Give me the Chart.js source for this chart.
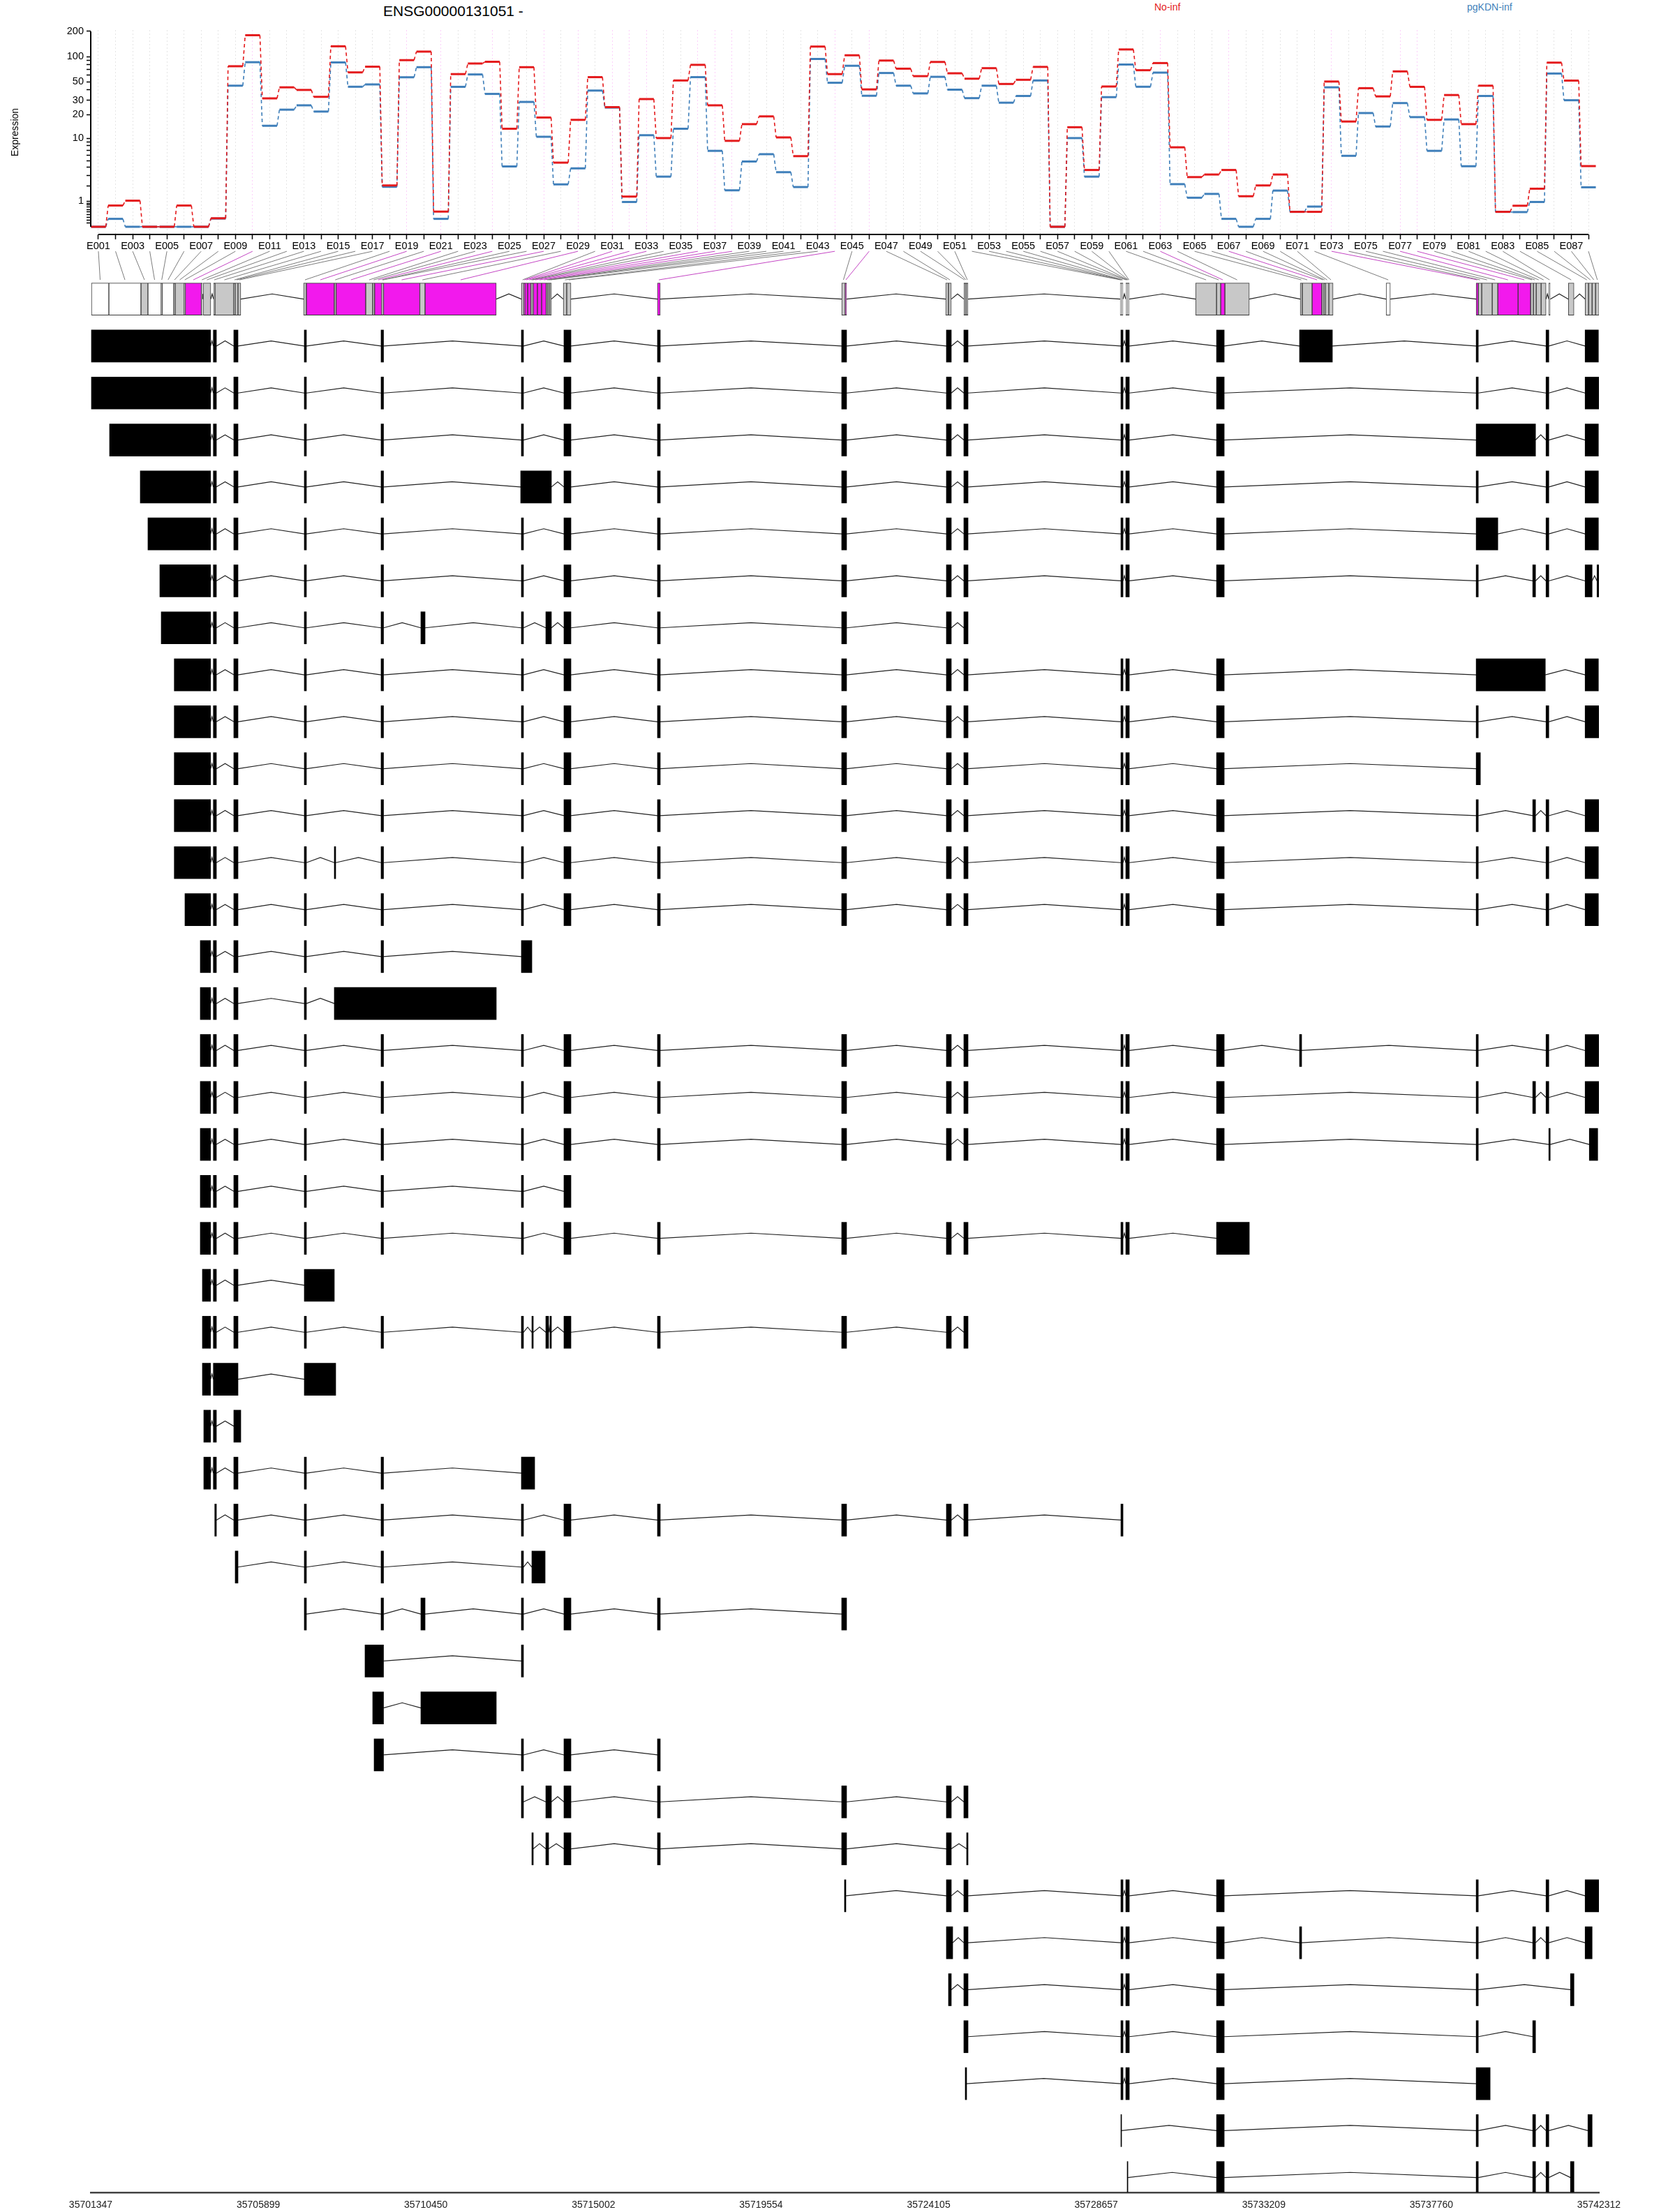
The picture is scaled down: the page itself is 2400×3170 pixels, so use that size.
<!DOCTYPE html>
<html>
<head>
<meta charset="utf-8">
<script src="https://cdn.jsdelivr.net/npm/chart.js@4.4.1/dist/chart.umd.min.js"></script>
<style>
  body { margin: 0; background: #fff; width: 2400px; height: 3170px; position: relative; overflow: hidden;
         font-family: "Liberation Sans", Arial, sans-serif; }
  canvas { position: absolute; left: 0; top: 0; }
  .lbl { position: absolute; white-space: nowrap; line-height: 20px; }
</style>
</head>
<body>
<div class="lbl" style="left:549px;top:4px;font-size:21px;line-height:24px">ENSG00000131051 -</div>
<div class="lbl" style="left:1654px;top:0px;font-size:14px;color:#E41A1C">No-inf</div>
<div class="lbl" style="left:2102px;top:0px;font-size:14px;color:#3F7FBA">pgKDN-inf</div>
<canvas id="expr" width="2400" height="380" style="width:2400px;height:380px"></canvas>
<canvas id="model" width="2400" height="3170" style="width:2400px;height:3170px"></canvas>
<script>
// exon bins E001..E088
const exonIds = Array.from({ length: 88 }, (_, i) => 'E' + String(i + 1).padStart(3, '0'));

// expression per bin
const noInf = [0, 0.78, 1.03, 0, 0, 0.78, 0, 0.26, 77, 180,
  31.6, 43, 40, 33, 133, 65, 76, 2.07, 91, 115,
  0.51, 62, 83, 87, 13.3, 75, 18.4, 4.7, 17.2, 57,
  24.7, 1.27, 31, 10.1, 52, 80, 26, 9.3, 15.2, 19,
  10.3, 5.8, 132, 62, 104, 40.6, 90, 72, 58.6, 86.6,
  63.4, 54.6, 73, 47.2, 53, 75.6, 0, 13.9, 3.67, 44,
  122, 69, 84, 7.64, 2.85, 3.13, 3.67, 1.29, 2.07, 3.13,
  0.5, 0.5, 50.5, 16.4, 42, 33.4, 66.8, 43.6, 17.2, 34.7,
  15.2, 45, 0.5, 0.77, 1.81, 85, 51.8, 4.19];
const pgKDN = [0, 0.24, 0, 0, 0, 0, 0, 0.25, 45, 86,
  14.5, 23, 26, 21.8, 85.5, 43.7, 46.6, 1.96, 56.8, 75,
  0.24, 43.6, 61.4, 35.8, 4.14, 28.6, 10.5, 2.16, 3.88, 39.3,
  24.4, 0.96, 11, 2.9, 13.3, 57, 6.85, 1.69, 4.88, 6.17,
  3.4, 1.94, 94, 48.8, 78, 34, 63.9, 45, 36.3, 57.5,
  40.3, 31.8, 45, 28, 33.8, 52, 0, 10.1, 2.9, 32.7,
  80.7, 43.7, 64.6, 2.18, 1.2, 1.44, 0.24, 0, 0.24, 1.67,
  0.5, 0.73, 43, 5.86, 20.9, 14.2, 27.7, 18.6, 6.85, 17.4,
  4.17, 33.8, 0.5, 0.49, 0.96, 63, 30, 1.92];

// y axis ticks (log(x+1) scale)
const yTickVals = [0.1, 0.2, 0.3, 0.4, 0.5, 0.6, 0.7, 0.8, 0.9, 1, 2, 3, 4, 5, 6, 7, 8, 9,
  10, 20, 30, 40, 50, 60, 70, 80, 90, 100, 200];
const yTickLabels = ['', '', '', '', '', '', '', '', '', '1', '', '', '', '', '', '', '', '',
  '10', '20', '30', '', '50', '', '', '', '', '100', '200'];

// genomic extent of each bin and its status (W untested, G not significant, M significant)
const binStart = [35701366, 35701840, 35702712, 35702901, 35703262, 35703290, 35703603, 35703641, 35703887, 35703916,
  35704352, 35704399, 35704684, 35704722, 35705233, 35705271, 35705347, 35707129, 35707205, 35707963,
  35708012, 35708816, 35709006, 35709057, 35709252, 35709275, 35709300, 35710285, 35710428, 35713044,
  35713110, 35713139, 35713215, 35713304, 35713329, 35713367, 35713480, 35713594, 35713719, 35713765,
  35713812, 35714181, 35714276, 35716740, 35721744, 35721839, 35724569, 35724645, 35725062, 35725100,
  35725138, 35729309, 35729328, 35729347, 35729366, 35729461, 35729480, 35729499, 35729518, 35729537,
  35731357, 35731926, 35732039, 35732153, 35734199, 35734256, 35734522, 35734787, 35734844, 35734882,
  35734977, 35736532, 35738978, 35739035, 35739129, 35739414, 35739566, 35740116, 35740457, 35740533,
  35740609, 35740742, 35740951, 35741482, 35741937, 35742032, 35742127, 35742222];
const binEnd = [35701840, 35702712, 35702901, 35703262, 35703290, 35703603, 35703641, 35703887, 35703916, 35704352,
  35704380, 35704608, 35704722, 35705233, 35705271, 35705347, 35705423, 35707205, 35707963, 35708012,
  35708816, 35709006, 35709057, 35709252, 35709275, 35709300, 35710285, 35710428, 35712362, 35713110,
  35713139, 35713215, 35713304, 35713329, 35713367, 35713480, 35713594, 35713719, 35713765, 35713812,
  35713859, 35714276, 35714390, 35716816, 35721839, 35721877, 35724645, 35724721, 35725100, 35725138,
  35725176, 35729328, 35729347, 35729366, 35729385, 35729480, 35729499, 35729518, 35729537, 35729556,
  35731926, 35732039, 35732153, 35732816, 35734256, 35734522, 35734787, 35734844, 35734882, 35734977,
  35735091, 35736646, 35739035, 35739129, 35739414, 35739566, 35740116, 35740457, 35740533, 35740609,
  35740742, 35740875, 35740989, 35741634, 35742032, 35742127, 35742222, 35742317];
const binType = ('WWGWGWGGGM' + 'GGGGGGGGMG' + 'MGGMGGMGMG' + 'MMMGGMMMGG' + 'GGGMGMGGGG' +
  'GGGGGGGGGG' + 'GGMGGGMGGG' + 'GWMGGGMMGG' + 'GGWGGGGG').split('');

// shared transcript exons
const ex2 = [35704678, 35704760], ex3 = [35705233, 35705347], ex4 = [35707148, 35707205];
const ex5 = [35709233, 35709300], ex6 = [35713044, 35713101], ex7 = [35714200, 35714390];
const ex8 = [35716740, 35716816], ex9 = [35721744, 35721877], ex10 = [35724588, 35724721];
const ex11 = [35725062, 35725176], ex12 = [35729328, 35729385], ex13 = [35729461, 35729556];
const ex14 = [35731926, 35732134], ex15 = [35738978, 35739035], ex16b = [35740514, 35740590];
const ex16 = [35740875, 35740951], ex17 = [35741937, 35742298];
const mid = [ex2, ex3, ex4, ex5, ex6, ex7, ex8, ex9, ex10, ex11, ex12, ex13, ex14];

const transcripts = [
  [[35701366, 35704602], ...mid, [35734180, 35735072], ex15, ex16, ex17],
  [[35701366, 35704602], ...mid, ex15, ex16, [35741937, 35742317]],
  [[35701859, 35704602], ...mid, [35738978, 35740590], ex16, ex17],
  [[35702693, 35704602], ex2, ex3, ex4, ex5, [35713025, 35713859], ex7, ex8, ex9, ex10, ex11, ex12, ex13, ex14, ex15, ex16, ex17],
  [[35702901, 35704602], ...mid, [35738978, 35739566], ex16, ex17],
  [[35703224, 35704602], ...mid, ex15, ex16b, ex16, [35741937, 35742127], [35742260, 35742317]],
  [[35703262, 35704602], ex2, ex3, ex4, ex5, [35710314, 35710428], ex6, [35713708, 35713859], ex7, ex8, ex9, ex10, ex11],
  [[35703616, 35704602], ...mid, [35738978, 35740856], ex17],
  [[35703616, 35704602], ...mid, ex15, ex16, [35741937, 35742317]],
  [[35703616, 35704602], ...mid, [35738978, 35739092]],
  [[35703616, 35704602], ...mid, ex15, ex16b, ex16, [35741937, 35742317]],
  [[35703616, 35704602], ex2, ex3, ex4, [35707963, 35708001], ex5, ex6, ex7, ex8, ex9, ex10, ex11, ex12, ex13, ex14, ex15, ex16, ex17],
  [[35703906, 35704602], ...mid, ex15, ex16, ex17],
  [[35704323, 35704602], ex2, ex3, ex4, ex5, [35713044, 35713329]],
  [[35704323, 35704602], ex2, ex3, ex4, [35707963, 35712362]],
  [[35704323, 35704602], ...mid, [35734180, 35734237], ex15, ex16, [35741937, 35742317]],
  [[35704323, 35704602], ...mid, ex15, ex16b, ex16, [35741937, 35742317]],
  [[35704323, 35704602], ...mid, ex15, [35740951, 35740989], [35742051, 35742279]],
  [[35704323, 35704602], ex2, ex3, ex4, ex5, ex6, ex7],
  [[35704323, 35704602], ex2, ex3, ex4, ex5, ex6, ex7, ex8, ex9, ex10, ex11, ex12, ex13, [35731926, 35732816]],
  [[35704380, 35704602], ex2, ex3, [35707148, 35707963]],
  [[35704380, 35704602], ex2, ex3, ex4, ex5, ex6, [35713329, 35713367], [35713708, 35713784], [35713821, 35713859], ex7, ex8, ex9, ex10, ex11],
  [[35704380, 35704602], [35704678, 35705347], [35707148, 35708001]],
  [[35704418, 35704602], ex2, [35705233, 35705423]],
  [[35704418, 35704602], ex2, ex3, ex4, ex5, [35713044, 35713405]],
  [[35704716, 35704760], ex3, ex4, ex5, ex6, ex7, ex8, ex9, ex10, ex11, ex12],
  [[35705271, 35705347], ex4, ex5, ex6, [35713329, 35713689]],
  [ex4, ex5, [35710314, 35710428], ex6, ex7, ex8, ex9],
  [[35708797, 35709300], ex6],
  [[35709006, 35709300], [35710314, 35712362]],
  [[35709044, 35709300], ex6, ex7, ex8],
  [ex6, [35713708, 35713859], ex7, ex8, ex9, ex10, ex11],
  [[35713329, 35713367], [35713708, 35713784], ex7, ex8, ex9, ex10, [35725138, 35725176]],
  [[35721820, 35721858], ex10, ex11, ex12, ex13, ex14, ex15, ex16, [35741937, 35742317]],
  [[35724588, 35724759], ex11, ex12, ex13, ex14, [35734180, 35734237], ex15, ex16b, ex16, [35741937, 35742127]],
  [[35724645, 35724721], ex11, ex12, ex13, ex14, ex15, [35741539, 35741634]],
  [ex11, ex12, ex13, ex14, ex15, ex16b],
  [[35725100, 35725138], ex12, ex13, ex14, [35738978, 35739357]],
  [[35729328, 35729347], ex14, ex15, ex16b, ex16, [35742013, 35742127]],
  [[35729499, 35729518], ex14, ex15, ex16b, ex16, [35741539, 35741634]]
];

// genomic axis ticks
const genomeTicks = [35701347, 35705899, 35710450, 35715002, 35719554, 35724105, 35728657, 35733209, 35737760, 35742312];

Chart.defaults.font.family = '"Liberation Sans", Arial, sans-serif';
Chart.defaults.color = '#000';

const RED = '#E41A1C', BLUE = '#3F7FBA', MAG = '#F219ED';
const exonMin = 0.5518, exonMax = 88.611;
const tr = v => Math.log10(v + 1);

// ---------- expression panel ----------
const steps = vals => vals.flatMap((v, i) => [{ x: i + 1 - 0.43, y: tr(v) }, { x: i + 1 + 0.43, y: tr(v) }]);
const stepSeg = {
  borderDash: c => (c.p0DataIndex % 2 ? [5, 4] : []),
  borderWidth: c => (c.p0DataIndex % 2 ? 1.6 : 3)
};

const axisLines = {
  id: 'axisLines',
  afterDraw(chart) {
    const { ctx, chartArea, scales: { x, y } } = chart;
    ctx.save();
    ctx.strokeStyle = '#000';
    ctx.lineWidth = 2;
    ctx.beginPath();
    ctx.moveTo(x.getPixelForValue(1), chartArea.bottom);
    ctx.lineTo(x.getPixelForValue(exonIds.length), chartArea.bottom);
    ctx.moveTo(chartArea.left, y.getPixelForValue(tr(200)));
    ctx.lineTo(chartArea.left, y.getPixelForValue(tr(0)));
    ctx.stroke();
    ctx.restore();
  }
};

new Chart(document.getElementById('expr'), {
  type: 'line',
  data: {
    datasets: [
      { label: 'No-inf', data: steps(noInf), borderColor: RED, borderWidth: 3, pointRadius: 0, segment: stepSeg },
      { label: 'pgKDN-inf', data: steps(pgKDN), borderColor: BLUE, borderWidth: 3, pointRadius: 0, segment: stepSeg }
    ]
  },
  options: {
    responsive: false,
    animation: false,
    events: [],
    layout: { padding: { top: 43, left: 10, right: 109, bottom: 0 } },
    plugins: { legend: { display: false }, tooltip: { enabled: false } },
    scales: {
      x: {
        type: 'linear', min: exonMin, max: exonMax,
        afterBuildTicks: s => { s.ticks = exonIds.map((_, i) => ({ value: i + 1 })); },
        afterFit: s => { s.height = 44; },
        ticks: { autoSkip: false, maxRotation: 0, padding: 1, font: { size: 14.5 },
                 callback: (v, i) => (i % 2 ? '' : exonIds[i]) },
        grid: {
          color: c => (binType[c.index] === 'M' ? 'rgba(240,40,230,0.22)' : 'rgba(0,0,0,0.10)'),
          lineWidth: 1, tickColor: '#000', tickLength: 7, tickWidth: 1.5
        },
        border: { display: false, dash: [2, 3] }
      },
      y: {
        type: 'linear', min: -0.0905, max: 2.319,
        afterBuildTicks: s => { s.ticks = yTickVals.map(v => ({ value: tr(v) })); },
        afterFit: s => { s.width = 120; },
        ticks: { autoSkip: false, padding: 4, font: { size: 14.5 }, callback: (v, i) => yTickLabels[i] },
        grid: { drawOnChartArea: false, tickColor: '#000', tickLength: 6, tickWidth: 1.5 },
        border: { display: false },
        title: { display: true, text: 'Expression', font: { size: 14 }, padding: { top: 4, bottom: 0 } }
      }
    }
  },
  plugins: [axisLines]
});

// ---------- gene model + transcripts ----------
const rows = transcripts.map((_, r) => r + 1);
const binBars = binStart.map((s, i) => ({ x: [s, binEnd[i]], y: 0 }));
const txBars = transcripts.flatMap((exs, r) => exs.map(e => ({ x: e, y: rows[r] })));

function zigzag(row, exs) {
  const pts = [];
  for (let i = 1; i < exs.length; i++) {
    const a = exs[i - 1][1], b = exs[i][0];
    if (b <= a) continue;
    pts.push({ x: a, y: row }, { x: (a + b) / 2, y: row - 0.11 }, { x: b, y: row }, { x: null, y: null });
  }
  return pts;
}
const intronPts = zigzag(0, binStart.map((s, i) => [s, binEnd[i]]))
  .concat(transcripts.flatMap((exs, r) => zigzag(rows[r], exs)));

const fanLines = {
  id: 'fanLines',
  afterDatasetsDraw(chart) {
    const { ctx, scales: { x, xe, y } } = chart;
    ctx.save();
    ctx.lineWidth = 1;
    binStart.forEach((s, i) => {
      ctx.strokeStyle = binType[i] === 'M' ? 'rgba(190,50,190,0.9)' : 'rgba(110,110,110,0.9)';
      ctx.beginPath();
      ctx.moveTo(xe.getPixelForValue(i + 1), y.getPixelForValue(-1.018));
      ctx.lineTo(x.getPixelForValue((s + binEnd[i]) / 2), y.getPixelForValue(-0.41));
      ctx.stroke();
    });
    ctx.restore();
  }
};

new Chart(document.getElementById('model'), {
  type: 'bar',
  data: {
    datasets: [
      {
        type: 'bar', data: binBars, grouped: false, borderSkipped: false,
        backgroundColor: c => ({ W: '#FFFFFF', G: '#C8C8C8', M: MAG }[binType[c.dataIndex]] || '#C8C8C8'),
        borderColor: '#3a3a3a', borderWidth: 1,
        categoryPercentage: 1, barPercentage: 1, maxBarThickness: 46
      },
      {
        type: 'bar', data: txBars, grouped: false, borderSkipped: false,
        backgroundColor: '#000', borderColor: '#000', borderWidth: 0,
        categoryPercentage: 1, barPercentage: 1, maxBarThickness: 46
      },
      {
        type: 'line', data: intronPts, borderColor: '#222', borderWidth: 1.2,
        pointRadius: 0, spanGaps: false, tension: 0
      }
    ]
  },
  options: {
    indexAxis: 'y',
    responsive: false,
    animation: false,
    events: [],
    layout: { padding: { top: 395, left: 130, right: 109, bottom: 0 } },
    plugins: { legend: { display: false }, tooltip: { enabled: false } },
    scales: {
      x: {
        type: 'linear', min: genomeTicks[0], max: genomeTicks[genomeTicks.length - 1],
        afterBuildTicks: s => { s.ticks = genomeTicks.map(v => ({ value: v })); },
        afterFit: s => { s.height = 28; },
        ticks: { autoSkip: false, maxRotation: 0, padding: 2, font: { size: 14 }, color: '#222',
                 callback: v => String(v) },
        grid: { display: false },
        border: { display: true, color: '#444', width: 2.5 }
      },
      xe: { type: 'linear', axis: 'x', min: exonMin, max: exonMax, display: false },
      y: {
        type: 'linear', reverse: true, offset: false, min: -0.5, max: 40.317, display: false,
        afterBuildTicks: s => { s.ticks = [0, ...rows].map(v => ({ value: v })); }
      }
    }
  },
  plugins: [fanLines]
});
</script>
</body>
</html>
